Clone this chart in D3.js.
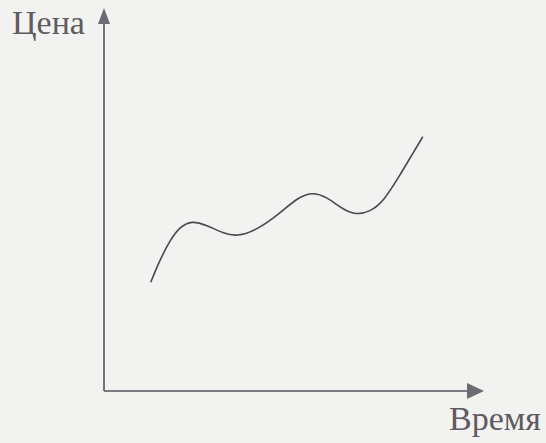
<!DOCTYPE html>
<html><head><meta charset="utf-8">
<script src="https://cdn.jsdelivr.net/npm/d3@7"></script>
<style>html,body{margin:0;padding:0;background:#f2f2f1;}svg{display:block;}</style>
</head><body>
<script>
const time  = [12.3, 14.7, 17.4, 20.0, 23.1, 27.0, 31.4, 34.9, 40.2, 46.3, 50.7, 54.7, 58.6, 63.0, 66.3, 70.0, 73.5, 77.9, 81.0, 83.9];
const price = [28.4, 34.2, 39.4, 42.9, 44.5, 43.3, 41.2, 40.3, 42.0, 46.4, 50.3, 52.0, 50.7, 47.3, 46.0, 46.8, 49.4, 56.4, 61.6, 66.4];
const yLabel = "Цена";
const xLabel = "Время";

const W = 546, H = 443;
const svg = d3.select("body").append("svg").attr("width", W).attr("height", H);
svg.append("rect").attr("width", W).attr("height", H).attr("fill", "#f2f2f1");

const x = d3.scaleLinear().domain([0, 100]).range([104, 484]);
const y = d3.scaleLinear().domain([0, 100]).range([391, 8]);
const axisColor = "#55525a";

// axes
svg.append("line").attr("x1", x(0)).attr("y1", y(0)).attr("x2", x(100) - 14).attr("y2", y(0))
  .attr("stroke", axisColor).attr("stroke-width", 1.6);
svg.append("line").attr("x1", x(0)).attr("y1", y(0)).attr("x2", x(0)).attr("y2", y(100) + 14)
  .attr("stroke", axisColor).attr("stroke-width", 1.6);
// arrowheads
svg.append("path").attr("d", `M${x(100)},${y(0)} L${x(100)-17},${y(0)-8} L${x(100)-17},${y(0)+8} Z`)
  .attr("fill", "#6d6a72");
svg.append("path").attr("d", `M${x(0)},${y(100)} L${x(0)-6},${y(100)+16} L${x(0)+6},${y(100)+16} Z`)
  .attr("fill", "#6d6a72");

// curve
const line = d3.line().x((d, i) => x(time[i])).y((d, i) => y(price[i])).curve(d3.curveBasis);
svg.append("path").datum(time).attr("d", line).attr("fill", "none")
  .attr("stroke", "#4a4750").attr("stroke-width", 1.6);

// labels
svg.append("text").attr("x", 12).attr("y", 34).text(yLabel)
  .attr("font-family", "Liberation Serif").attr("font-size", 34).attr("fill", "#5e5a60");
svg.append("text").attr("x", 541).attr("y", 430).attr("text-anchor", "end").text(xLabel)
  .attr("font-family", "Liberation Serif").attr("font-size", 34).attr("fill", "#5e5a60");
</script>
</body></html>
